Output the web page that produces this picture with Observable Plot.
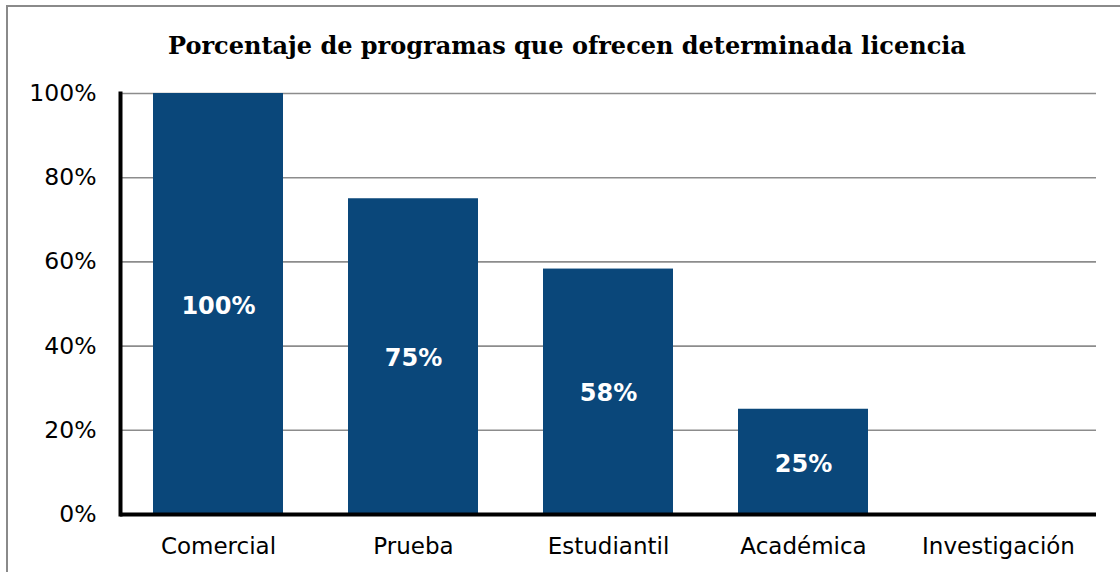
<!DOCTYPE html>
<html>
<head>
<meta charset="utf-8">
<script src="https://cdn.jsdelivr.net/npm/d3@7"></script>
<script src="https://cdn.jsdelivr.net/npm/@observablehq/plot@0.6"></script>
<style>
  html, body { margin: 0; padding: 0; background: #fff; }
  #wrap { position: relative; width: 1120px; height: 572px; overflow: hidden; }
  #frame { position: absolute; left: 6px; top: 5px; width: 1300px; height: 800px;
           border-top: 2px solid #8a8a8a; border-left: 2px solid #8a8a8a; }
  #title { position: absolute; left: 0; top: 31px; width: 1134px; text-align: center;
           font-family: "DejaVu Serif", serif; font-weight: bold; font-size: 24px; line-height: 30px; color: #000; }
  #chart { position: absolute; left: 0; top: 70px; }
</style>
</head>
<body>
<div id="wrap">
  <div id="frame"></div>
  <div id="title">Porcentaje de programas que ofrecen determinada licencia</div>
  <div id="chart"></div>
</div>
<script>
const categories = ["Comercial", "Prueba", "Estudiantil", "Académica", "Investigación"];
const values = [1.00, 0.75, 0.583, 0.25, 0];
const valueLabels = ["100%", "75%", "58%", "25%", ""];
const yTicks = [0, 0.2, 0.4, 0.6, 0.8, 1.0];
const yTickLabels = ["0%", "20%", "40%", "60%", "80%", "100%"];

const data = categories.map((c, i) => ({cat: c, value: values[i], label: valueLabels[i]}));

const chart = Plot.plot({
  width: 1120,
  height: 502,
  marginTop: 23,
  marginBottom: 58,
  marginLeft: 120,
  marginRight: 24,
  style: {fontFamily: "'DejaVu Sans', Verdana, sans-serif", fontSize: "23px", color: "#000", background: "transparent"},
  x: {domain: categories, paddingInner: 0.334, paddingOuter: 0.167, label: null},
  y: {domain: [0, 1], label: null},
  marks: [
    Plot.ruleY(yTicks.filter(t => t > 0), {stroke: "#8c8c8c", strokeWidth: 1.6}),
    Plot.barY(data, {x: "cat", y: "value", fill: "#0a477a"}),
    Plot.text(data.filter(d => d.value > 0), {x: "cat", y: d => d.value / 2, text: "label",
      fill: "white", fontWeight: "bold", fontSize: 24, dy: 2}),
    Plot.ruleY([0], {stroke: "black", strokeWidth: 4}),
    Plot.frame({anchor: "left", stroke: "black", strokeWidth: 4}),
    Plot.axisX({tickSize: 0, tickPadding: 23, fontSize: 23}),
    Plot.axisY({tickSize: 0, tickPadding: 24, fontSize: 23.5, ticks: yTicks, tickFormat: d => yTickLabels[yTicks.indexOf(d)]})
  ]
});
document.getElementById("chart").appendChild(chart);
</script>
</body>
</html>
